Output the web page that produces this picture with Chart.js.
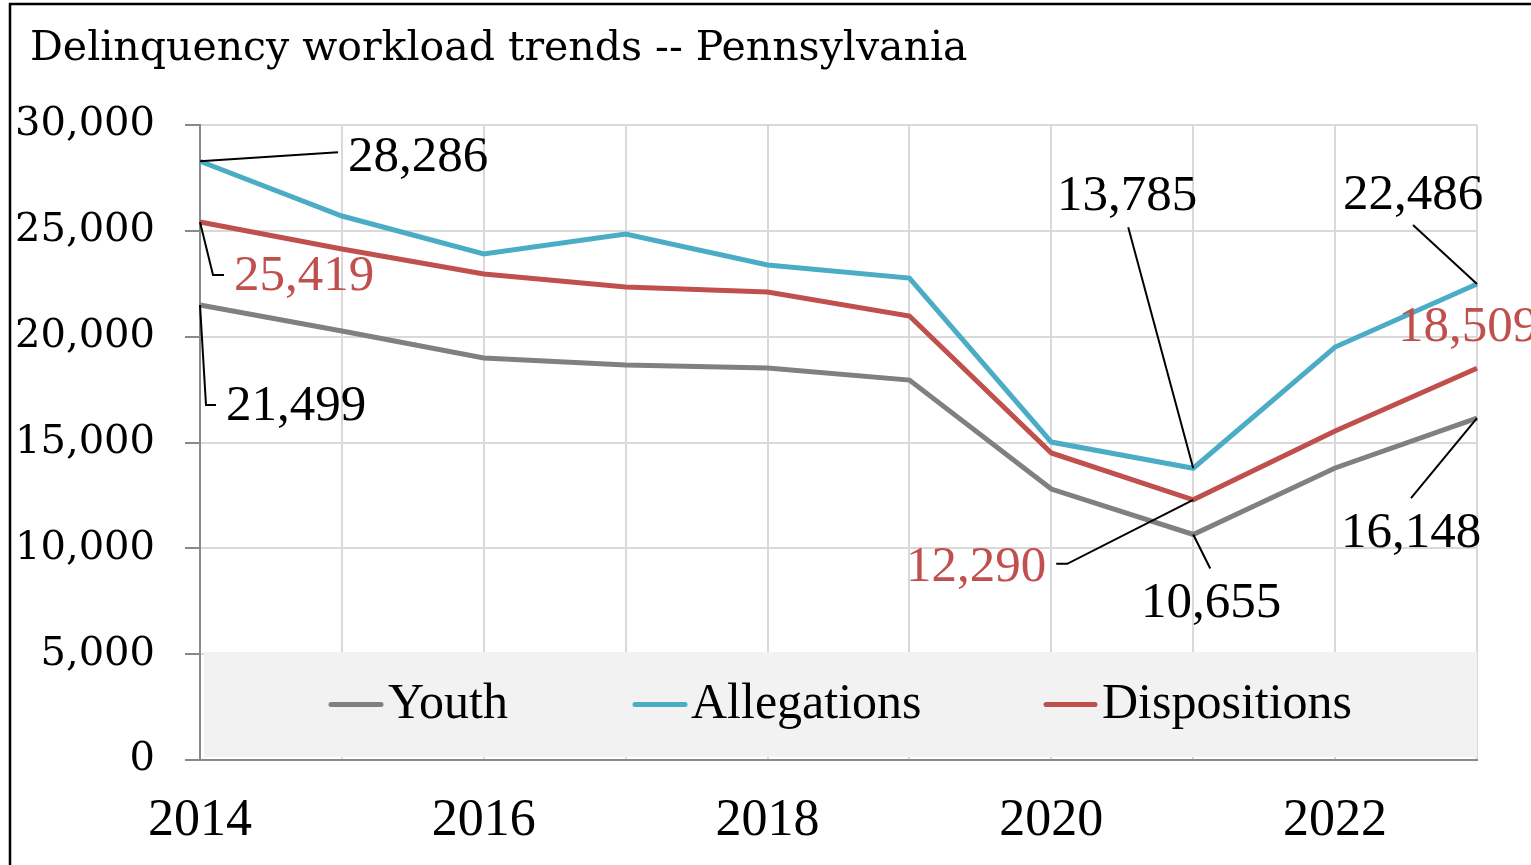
<!DOCTYPE html>
<html>
<head>
<meta charset="utf-8">
<script src="https://cdn.jsdelivr.net/npm/chart.js@4.4.1/dist/chart.umd.min.js"></script>
<style>
  html, body { margin: 0; padding: 0; background: #fff; }
  #wrap { width: 1531px; height: 865px; }
</style>
</head>
<body>
<div id="wrap"><canvas id="workloadChart" width="1531" height="865"></canvas></div>
<script>
// Delinquency workload trends -- Pennsylvania
const years = ['2014', '2015', '2016', '2017', '2018', '2019', '2020', '2021', '2022', '2023'];
const youth = [21499, 20270, 18990, 18660, 18520, 17950, 12800, 10655, 13795, 16148];
const allegations = [28286, 25700, 23905, 24850, 23385, 22770, 15020, 13785, 19510, 22486];
const dispositions = [25419, 24140, 22960, 22345, 22110, 20975, 14505, 12290, 15545, 18509];
const yTicks = [0, 5000, 10000, 15000, 20000, 25000, 30000];

const seriesNames = ['Youth', 'Allegations', 'Dispositions'];
const seriesColors = ['#808080', '#4bacc6', '#c0504d'];

const SERIF = '"Liberation Serif", "Times New Roman", serif';
const WIDE_SERIF = '"DejaVu Serif", serif';

// where each data label sits, relative to its point (dataset index, point index)
const labelLayout = [
    { ds: 1, i: 0, color: '#000', align: 'left', tx: 148, ty: -4, path: [[0, 0], [138, -9]] },
    { ds: 2, i: 0, color: '#c0504d', align: 'left', tx: 34, ty: 55, path: [[0, 0], [13, 53], [24, 53]] },
    { ds: 0, i: 0, color: '#000', align: 'left', tx: 26, ty: 102, path: [[0, 0], [6, 100], [16, 100]] },
    { ds: 1, i: 7, color: '#000', align: 'center', tx: -66, ty: -272, path: [[0, 0], [-65, -241]] },
    { ds: 2, i: 7, color: '#c0504d', align: 'right', tx: -147, ty: 68, path: [[0, 0], [-126, 64], [-137, 64]] },
    { ds: 0, i: 7, color: '#000', align: 'center', tx: 18, ty: 69, path: [[0, 0], [17, 34]] },
    { ds: 1, i: 9, color: '#000', align: 'center', tx: -64, ty: -88, path: [[0, 0], [-64, -59]] },
    { ds: 2, i: 9, color: '#c0504d', align: 'left', tx: -79, ty: -41, path: [] },
    { ds: 0, i: 9, color: '#000', align: 'center', tx: -66, ty: 115, path: [[0, 0], [-66, 80]] }
];

// legend inside the plot, over the lower band
const legendItems = [
    { ds: 0, x1: 128, x2: 184, tx: 188 },
    { ds: 1, x1: 432, x2: 488, tx: 491 },
    { ds: 2, x1: 843, x2: 898, tx: 902 }
];

const fmt = v => v.toLocaleString('en-US');

const framePlugin = {
    id: 'frameAndTitle',
    afterDraw(chart) {
        const ctx = chart.ctx;
        ctx.save();
        ctx.strokeStyle = '#000';
        ctx.lineWidth = 2.5;
        ctx.strokeRect(10, 4, 1560, 900);
        ctx.fillStyle = '#000';
        ctx.font = '41px ' + WIDE_SERIF;
        ctx.textAlign = 'left';
        ctx.textBaseline = 'alphabetic';
        ctx.fillText('Delinquency workload trends -- Pennsylvania', 30, 60);
        ctx.restore();
    }
};

const legendBoxPlugin = {
    id: 'legendBox',
    beforeDatasetsDraw(chart) {
        const ctx = chart.ctx;
        const area = chart.chartArea;
        const y = chart.scales.y;
        const top = y.getPixelForValue(5000) - 2;
        const bottom = area.bottom - 3;
        ctx.save();
        ctx.fillStyle = '#f2f2f2';
        ctx.fillRect(area.left + 4, top, area.right - area.left - 4, bottom - top);
        const mid = (top + bottom) / 2;
        legendItems.forEach(item => {
            ctx.strokeStyle = seriesColors[item.ds];
            ctx.lineWidth = 5;
            ctx.lineCap = 'round';
            ctx.beginPath();
            ctx.moveTo(area.left + item.x1 + 3, mid);
            ctx.lineTo(area.left + item.x2 - 3, mid);
            ctx.stroke();
            ctx.fillStyle = '#000';
            ctx.font = '50px ' + SERIF;
            ctx.textAlign = 'left';
            ctx.textBaseline = 'middle';
            ctx.fillText(seriesNames[item.ds], area.left + item.tx, mid);
        });
        ctx.restore();
    }
};

const dataLabelPlugin = {
    id: 'dataLabels',
    afterDatasetsDraw(chart) {
        const ctx = chart.ctx;
        ctx.save();
        labelLayout.forEach(lab => {
            const pt = chart.getDatasetMeta(lab.ds).data[lab.i];
            const value = chart.data.datasets[lab.ds].data[lab.i];
            if (lab.path.length > 1) {
                ctx.strokeStyle = '#000';
                ctx.lineWidth = 2;
                ctx.lineCap = 'butt';
                ctx.beginPath();
                lab.path.forEach((p, k) => {
                    if (k === 0) ctx.moveTo(pt.x + p[0], pt.y + p[1]);
                    else ctx.lineTo(pt.x + p[0], pt.y + p[1]);
                });
                ctx.stroke();
            }
            ctx.fillStyle = lab.color;
            ctx.font = '51px ' + SERIF;
            ctx.textAlign = lab.align;
            ctx.textBaseline = 'middle';
            ctx.fillText(fmt(value), pt.x + lab.tx, pt.y + lab.ty);
        });
        ctx.restore();
    }
};

const ctx = document.getElementById('workloadChart').getContext('2d');
const seriesData = [youth, allegations, dispositions];

new Chart(ctx, {
    type: 'line',
    data: {
        labels: years,
        datasets: seriesNames.map((name, k) => ({
            label: name,
            data: seriesData[k],
            borderColor: seriesColors[k],
            backgroundColor: seriesColors[k],
            borderWidth: 5,
            pointRadius: 0,
            tension: 0,
            fill: false
        }))
    },
    options: {
        responsive: false,
        animation: false,
        layout: { padding: { left: 0, top: 125, right: 54, bottom: 0 } },
        plugins: {
            legend: { display: false },
            title: { display: false },
            tooltip: { enabled: false }
        },
        scales: {
            x: {
                type: 'category',
                offset: false,
                afterFit: s => { s.height = 105; },
                grid: { color: '#d9d9d9', lineWidth: 2, drawTicks: false },
                border: { color: '#898989', width: 2 },
                ticks: {
                    autoSkip: false,
                    maxRotation: 0,
                    padding: 30,
                    color: '#000',
                    font: { family: SERIF, size: 52 },
                    callback: function(val, i) { return i % 2 === 0 ? years[i] : ''; }
                }
            },
            y: {
                min: 0,
                max: 30000,
                afterFit: s => { s.width = 200; },
                afterBuildTicks: s => { s.ticks = yTicks.map(v => ({ value: v })); },
                grid: { color: '#d9d9d9', lineWidth: 2, tickColor: '#898989', tickLength: 15 },
                border: { color: '#898989', width: 2 },
                ticks: {
                    padding: 30,
                    color: '#000',
                    font: { family: WIDE_SERIF, size: 40 },
                    callback: v => fmt(v)
                }
            }
        }
    },
    plugins: [legendBoxPlugin, dataLabelPlugin, framePlugin]
});
</script>
</body>
</html>
